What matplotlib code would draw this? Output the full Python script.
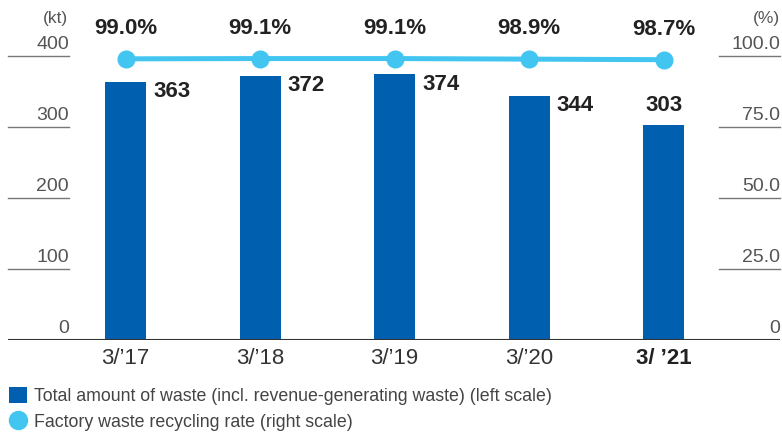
import matplotlib
matplotlib.use("Agg")
import matplotlib.pyplot as plt
from matplotlib.patches import Patch
from matplotlib.lines import Line2D
import matplotlib.transforms as mtransforms
import numpy as np

# data
years = ["3/\u201917", "3/\u201918", "3/\u201919", "3/\u201920", "3/ \u201921"]
waste_kt = [363, 372, 374, 344, 303]
recycle_rate = [99.0, 99.1, 99.1, 98.9, 98.7]
left_ticks = [0, 100, 200, 300, 400]
right_ticks = [0, 25, 50, 75, 100]
right_tick_labels = ["0", "25.0", "50.0", "75.0", "100.0"]
legend_labels = ["Total amount of waste (incl. revenue-generating waste) (left scale)",
                 "Factory waste recycling rate (right scale)"]

BAR = "#0060AF"
LINE = "#42C6F1"
TXT = "#222222"
GREY = "#555555"

plt.rcParams['font.family'] = ['Liberation Sans', 'DejaVu Sans']

W, H = 782, 432
fig = plt.figure(figsize=(W / 100, H / 100), dpi=100)
ax = fig.add_axes([8 / W, 92 / H, 772 / W, 284 / H])
ax2 = ax.twinx()

x = np.arange(len(years))
bw = 0.305
ax.bar(x, waste_kt, width=bw, color=BAR, zorder=2)
ax.set_ylim(0, 400)
ax.set_xlim(-0.874, 4.866)
ax2.set_ylim(0, 100)

for a in (ax, ax2):
    for s in a.spines.values():
        s.set_visible(False)
    a.set_yticks([])
ax.set_xticks(x)
ax.set_xticklabels(years, fontsize=16, color="#333333")
ax.get_xticklabels()[-1].set_fontweight("bold")
ax.get_xticklabels()[-1].set_color(TXT)
ax.tick_params(axis="x", length=0, pad=6)

ax.axhline(0, color="#333333", lw=1.5, zorder=3)

trans = mtransforms.blended_transform_factory(ax.transAxes, ax.transData)
trans2 = mtransforms.blended_transform_factory(ax2.transAxes, ax2.transData)
lx = (69 - 8) / 772
rx = (719 - 8) / 772
for t in left_ticks:
    if t > 0:
        ax.plot([0, lx], [t, t], color="#777777", lw=1, transform=trans, clip_on=False)
    ax.annotate(str(t), (lx, t), xycoords=trans, xytext=(0, 5), textcoords="offset points",
                ha="right", va="baseline", fontsize=14, color=GREY)
for t, lab in zip(right_ticks, right_tick_labels):
    if t > 0:
        ax2.plot([rx, 1], [t, t], color="#777777", lw=1, transform=trans2, clip_on=False)
    ax2.annotate(lab, (1, t), xycoords=trans2, xytext=(0, 5), textcoords="offset points",
                 ha="right", va="baseline", fontsize=14, color=GREY)

fig.text(68 / W, 1 - 18 / H, "(kt)", ha="right", va="center", fontsize=12.5, color=GREY)
fig.text(780 / W, 1 - 18 / H, "(%)", ha="right", va="center", fontsize=12.5, color=GREY)

# bar values
for i, v in enumerate(waste_kt):
    if i == len(waste_kt) - 1:
        ax.annotate(str(v), (x[i], v), xytext=(0, 14), textcoords="offset points",
                    ha="center", va="center", fontsize=16, fontweight="bold", color=TXT)
    else:
        ax.annotate(str(v), (x[i] + bw / 2, v), xytext=(5, -7), textcoords="offset points",
                    ha="left", va="center", fontsize=16, fontweight="bold", color=TXT)

ax2.plot(x, recycle_rate, color=LINE, lw=3.6, marker="o", ms=12, zorder=4, clip_on=False)
for i, r in enumerate(recycle_rate):
    ax2.annotate("%.1f%%" % r, (x[i], r), xytext=(0, 22), textcoords="offset points",
                 ha="center", va="center", fontsize=16, fontweight="bold", color=TXT)

handles = [Patch(facecolor=BAR, edgecolor="none"),
           Line2D([], [], linestyle="none", marker="o", ms=13, color=LINE)]
fig.legend(handles, legend_labels, loc="upper left", bbox_to_anchor=(2 / W, 1 - 380 / H),
           frameon=False, fontsize=12.8, labelcolor="#444444", handlelength=1.0,
           handleheight=1.0, handletextpad=0.4, labelspacing=0.45, borderaxespad=0)

fig.savefig("out.png", dpi=100)
